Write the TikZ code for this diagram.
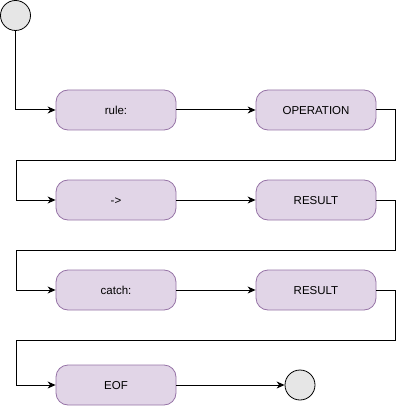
\documentclass[tikz,border=0pt]{standalone}
\usepackage{fontspec}
\setmainfont{Liberation Sans}
\usetikzlibrary{arrows.meta}
\begin{document}
\begin{tikzpicture}[x=1pt,y=-1pt,
  tok/.style={draw=purpleedge,fill=purplefill,rounded corners=12pt,minimum width=120pt,minimum height=40pt,inner sep=0pt,font=\fontsize{11.5}{13}\selectfont,line width=0.8pt,text depth=0pt,text height=8.5pt,anchor=center},
  term/.style={circle,draw=black,fill=termfill,minimum size=30pt,inner sep=0pt,line width=0.8pt},
  conn/.style={draw=black,line width=1pt,-{Stealth[length=8pt,width=7pt,inset=2.5pt]}}]
\definecolor{purplefill}{HTML}{E1D5E7}
\definecolor{purpleedge}{HTML}{9673A6}
\definecolor{termfill}{HTML}{E6E6E6}
\useasboundingbox (0,0) rectangle (405,406);
\node[term] (start) at (15.5,15.5) {};
\node[tok] (rule) at (116,110) {rule:};
\node[tok] (op) at (316,110) {OPERATION};
\node[tok] (arrow) at (116,200) {->};
\node[tok] (res1) at (316,200) {RESULT};
\node[tok] (catch) at (116,290) {catch:};
\node[tok] (res2) at (316,290) {RESULT};
\node[tok] (eof) at (116,385) {EOF};
\node[term] (end) at (300,385) {};
\draw[conn] (start.south) |- (rule.west);
\draw[conn] (rule) -- (op);
\draw[conn] (op.east) -- (395,110) -- (395,160) -- (16,160) |- (arrow.west);
\draw[conn] (arrow) -- (res1);
\draw[conn] (res1.east) -- (395,200) -- (395,250) -- (16,250) |- (catch.west);
\draw[conn] (catch) -- (res2);
\draw[conn] (res2.east) -- (395,290) -- (395,340) -- (16,340) |- (eof.west);
\draw[conn] (eof) -- (end);
\end{tikzpicture}
\end{document}
